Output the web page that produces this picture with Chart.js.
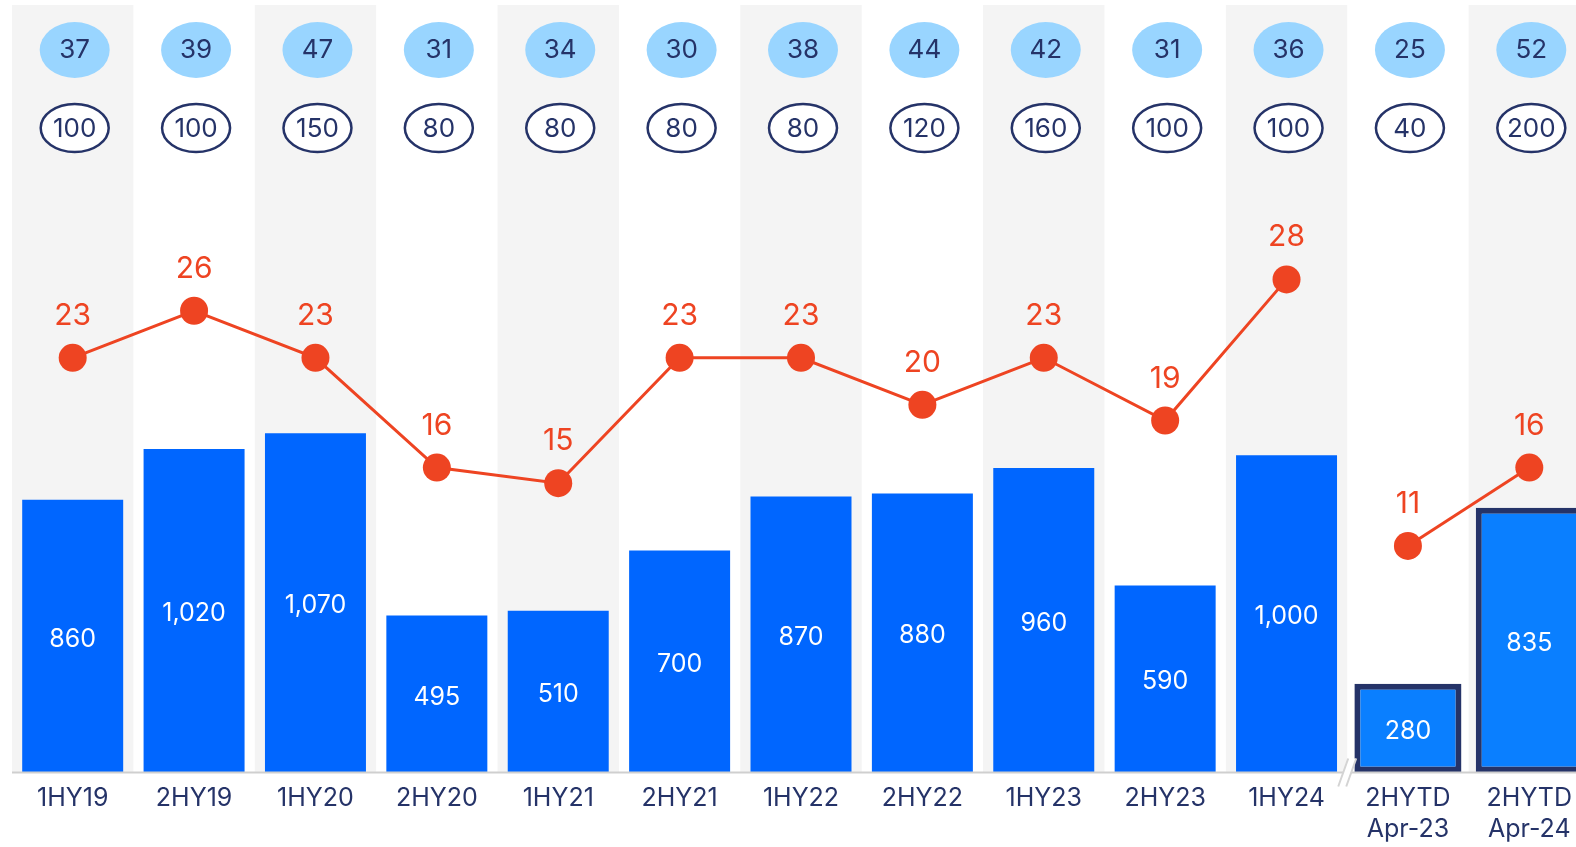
<!DOCTYPE html>
<html>
<head>
<meta charset="utf-8">
<script src="https://cdn.jsdelivr.net/npm/chart.js@4/dist/chart.umd.min.js"></script>
<style>
  html, body { margin: 0; padding: 0; background: #fff; overflow: hidden; }
  canvas { display: block; position: absolute; left: -2px; top: -9px; }
</style>
</head>
<body>
<canvas id="chart" width="1606" height="864"></canvas>
<script>
const categories = ["1HY19", "2HY19", "1HY20", "2HY20", "1HY21", "2HY21", "1HY22", "2HY22",
  "1HY23", "2HY23", "1HY24", ["2HYTD", "Apr-23"], ["2HYTD", "Apr-24"]];

// blue bars (half years) and the outlined year-to-date bars
const barValues = [860, 1020, 1070, 495, 510, 700, 870, 880, 960, 590, 1000, null, null];
const ytdValues = [null, null, null, null, null, null, null, null, null, null, null, 280, 835];

// red line, split at the axis break
const lineValues = [23, 26, 23, 16, 15, 23, 23, 20, 23, 19, 28, null, null];
const ytdLineValues = [null, null, null, null, null, null, null, null, null, null, null, 11, 16];

// the two rows of ovals at the top
const topValues = [37, 39, 47, 31, 34, 30, 38, 44, 42, 31, 36, 25, 52];
const ringValues = [100, 100, 150, 80, 80, 80, 80, 120, 160, 100, 100, 40, 200];

const FONT = "Inter";
const NAVY = "#253368";
const RED = "#EE4422";

const decorPlugin = {
  id: "decor",
  beforeDatasetsDraw(chart) {
    const {ctx, chartArea, scales} = chart;
    const x = scales.x;
    const w = x.getPixelForValue(1) - x.getPixelForValue(0);
    ctx.save();
    ctx.fillStyle = "#f4f4f4";
    categories.forEach((c, i) => {
      if (i % 2 === 0) {
        const cx = x.getPixelForValue(i);
        ctx.fillRect(cx - w / 2, chartArea.top, w, chartArea.bottom - chartArea.top);
      }
    });
    ctx.restore();
  },
  afterDatasetsDraw(chart) {
    const {ctx, chartArea, scales} = chart;
    const x = scales.x;
    const top = chartArea.top;
    ctx.save();
    ctx.textAlign = "center";
    ctx.textBaseline = "middle";

    // ovals
    topValues.forEach((v, i) => {
      const cx = x.getPixelForValue(i) + 2;
      ctx.beginPath();
      ctx.ellipse(cx, top + 45, 35, 28, 0, 0, Math.PI * 2);
      ctx.fillStyle = "#99D5FF";
      ctx.fill();
      ctx.fillStyle = NAVY;
      ctx.font = "26px " + FONT;
      ctx.fillText(String(v), cx, top + 45);

      ctx.beginPath();
      ctx.ellipse(cx, top + 123, 34, 24, 0, 0, Math.PI * 2);
      ctx.fillStyle = "#fff";
      ctx.fill();
      ctx.lineWidth = 2.5;
      ctx.strokeStyle = NAVY;
      ctx.stroke();
      ctx.fillStyle = NAVY;
      ctx.fillText(String(ringValues[i]), cx, top + 124);
    });

    // bar labels
    ctx.font = "25px " + FONT;
    ctx.fillStyle = "#fff";
    [0, 1].forEach((d) => {
      chart.getDatasetMeta(d).data.forEach((bar, i) => {
        const v = chart.data.datasets[d].data[i];
        if (v == null) return;
        ctx.fillText(v.toLocaleString("en-US"), bar.x, (bar.y + bar.base) / 2 + 3);
      });
    });

    // line labels
    ctx.font = "30px " + FONT;
    ctx.fillStyle = RED;
    [2, 3].forEach((d) => {
      chart.getDatasetMeta(d).data.forEach((pt, i) => {
        const v = chart.data.datasets[d].data[i];
        if (v == null) return;
        ctx.fillText(String(v), pt.x, pt.y - 42);
      });
    });

    // axis line with a break between 1HY24 and the YTD bars
    const y0 = chartArea.bottom;
    ctx.strokeStyle = "#cfcfcf";
    ctx.lineWidth = 2;
    ctx.beginPath();
    ctx.moveTo(chartArea.left, y0);
    ctx.lineTo(chartArea.right, y0);
    ctx.stroke();

    const mid = (x.getPixelForValue(10) + x.getPixelForValue(11)) / 2;
    ctx.beginPath();
    ctx.moveTo(mid + 1, y0 - 14);
    ctx.lineTo(mid + 9, y0 - 14);
    ctx.lineTo(mid - 1, y0 + 14);
    ctx.lineTo(mid - 9, y0 + 14);
    ctx.closePath();
    ctx.fillStyle = "#fff";
    ctx.fill();
    ctx.beginPath();
    ctx.moveTo(mid + 1, y0 - 14);
    ctx.lineTo(mid - 9, y0 + 14);
    ctx.moveTo(mid + 9, y0 - 14);
    ctx.lineTo(mid - 1, y0 + 14);
    ctx.strokeStyle = "#d4d4d4";
    ctx.lineWidth = 2;
    ctx.stroke();
    ctx.restore();
  }
};

const lineStyle = {
  type: "line",
  borderColor: RED,
  backgroundColor: RED,
  borderWidth: 3,
  pointRadius: 14,
  pointBorderWidth: 0,
  pointBackgroundColor: RED,
  order: 0,
  yAxisID: "y2"
};

new Chart(document.getElementById("chart"), {
  type: "bar",
  data: {
    labels: categories,
    datasets: [
      {
        data: barValues,
        backgroundColor: "#0066FF",
        barPercentage: 0.832,
        categoryPercentage: 1,
        grouped: false,
        order: 2,
        yAxisID: "y"
      },
      {
        data: ytdValues,
        backgroundColor: "#0A7FFF",
        borderColor: NAVY,
        borderWidth: 6,
        borderSkipped: false,
        barPercentage: 0.882,
        categoryPercentage: 1,
        grouped: false,
        order: 2,
        yAxisID: "y"
      },
      Object.assign({ data: lineValues }, lineStyle),
      Object.assign({ data: ytdLineValues }, lineStyle)
    ]
  },
  options: {
    responsive: false,
    animation: false,
    layout: { padding: { left: 14, right: 14, top: 14, bottom: 0 } },
    plugins: { legend: { display: false }, tooltip: { enabled: false } },
    scales: {
      x: {
        grid: { display: false, drawTicks: false },
        border: { display: false },
        ticks: {
          color: NAVY,
          padding: 10,
          maxRotation: 0,
          autoSkip: false,
          font: { family: FONT, size: 25, lineHeight: 1.25 }
        }
      },
      y: { display: false, min: 0, max: 2420 },
      y2: { display: false, min: -3.45, max: 45.5 }
    }
  },
  plugins: [decorPlugin]
});
</script>
</body>
</html>
